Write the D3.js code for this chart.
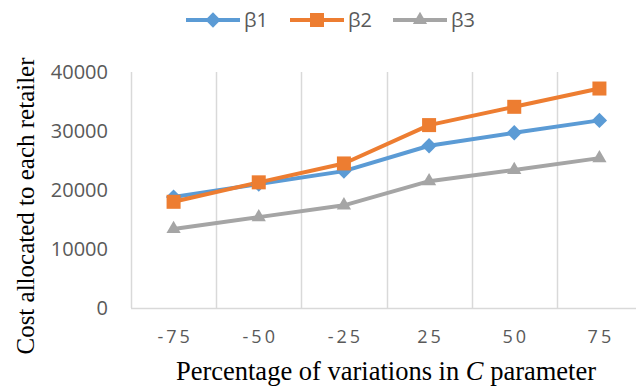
<!DOCTYPE html>
<html>
<head>
<meta charset="utf-8">
<script src="https://cdn.jsdelivr.net/npm/d3@7"></script>
<style>
  body { margin: 0; background: #fff; }
  svg { display: block; }
</style>
</head>
<body>
<div id="chart"></div>
<script>
// Data
const categories = ["-75", "-50", "-25", "25", "50", "75"];
const beta1 = [18800, 21000, 23200, 27500, 29700, 31800];
const beta2 = [18000, 21300, 24500, 31000, 34100, 37200];
const beta3 = [13400, 15400, 17400, 21500, 23400, 25400];
const yTicks = [0, 10000, 20000, 30000, 40000];
const seriesNames = ["β1", "β2", "β3"];

const series = [
    {name: seriesNames[0], values: beta1, color: "#5B9BD5", symbol: d3.symbolDiamond2, size: 150},
    {name: seriesNames[1], values: beta2, color: "#ED7D31", symbol: d3.symbolSquare2, size: 250},
    {name: seriesNames[2], values: beta3, color: "#A5A5A5", symbol: d3.symbolTriangle2, size: 145}
];

// Set up dimensions
const width = 636, height = 390;
const plot = {left: 131, right: 642, top: 72, bottom: 308};

const svg = d3.select("#chart")
    .append("svg")
    .attr("width", width)
    .attr("height", height);

// Scales
const x = d3.scaleBand()
    .domain(categories)
    .range([plot.left, plot.right]);

const y = d3.scaleLinear()
    .domain([0, 40000])
    .range([plot.bottom, plot.top]);

// Vertical gridlines between categories
svg.append("g")
    .selectAll("line")
    .data(categories.slice(1))
    .join("line")
    .attr("x1", d => Math.round(x(d)) + 0.5)
    .attr("x2", d => Math.round(x(d)) + 0.5)
    .attr("y1", plot.top)
    .attr("y2", plot.bottom)
    .attr("stroke", "#D9D9D9")
    .attr("stroke-width", 1.5);

// Axis lines
svg.append("line")
    .attr("x1", plot.left).attr("x2", plot.right)
    .attr("y1", plot.bottom + 0.5).attr("y2", plot.bottom + 0.5)
    .attr("stroke", "#D9D9D9").attr("stroke-width", 1.5);
svg.append("line")
    .attr("x1", plot.left + 0.5).attr("x2", plot.left + 0.5)
    .attr("y1", plot.top).attr("y2", plot.bottom)
    .attr("stroke", "#D9D9D9").attr("stroke-width", 1.5);

// Y tick labels
svg.append("g")
    .selectAll("text")
    .data(yTicks)
    .join("text")
    .attr("x", 108)
    .attr("y", d => y(d))
    .attr("dy", "0.35em")
    .attr("text-anchor", "end")
    .attr("font-family", "'Open Sans', sans-serif")
    .attr("font-size", 20)
    .attr("fill", "#595959")
    .text(d => d);

// X tick labels
svg.append("g")
    .selectAll("text")
    .data(categories)
    .join("text")
    .attr("x", d => x(d) + x.bandwidth() / 2 + 1.5)
    .attr("y", 343)
    .attr("text-anchor", "middle")
    .attr("font-family", "'Open Sans', sans-serif")
    .attr("font-size", 18)
    .attr("letter-spacing", 3)
    .attr("fill", "#595959")
    .text(d => d);

// Lines and markers
const line = d3.line()
    .x((d, i) => x(categories[i]) + x.bandwidth() / 2)
    .y(d => y(d));

series.forEach(s => {
    svg.append("path")
        .datum(s.values)
        .attr("fill", "none")
        .attr("stroke", s.color)
        .attr("stroke-width", 4)
        .attr("stroke-linejoin", "round")
        .attr("d", line);
});

series.forEach(s => {
    svg.append("g")
        .selectAll("path")
        .data(s.values)
        .join("path")
        .attr("transform", (d, i) => `translate(${x(categories[i]) + x.bandwidth() / 2},${y(d)})`)
        .attr("d", d3.symbol().type(s.symbol).size(s.size))
        .attr("fill", s.color);
});

// Legend
const legendX = [186, 290, 393];
const legend = svg.append("g")
    .selectAll("g")
    .data(series)
    .join("g")
    .attr("transform", (d, i) => `translate(${legendX[i]},20)`);

legend.append("line")
    .attr("x1", 0).attr("x2", 54)
    .attr("y1", 0).attr("y2", 0)
    .attr("stroke", d => d.color)
    .attr("stroke-width", 4);

legend.append("path")
    .attr("transform", "translate(27,0)")
    .attr("d", d => d3.symbol().type(d.symbol).size(d.size)())
    .attr("fill", d => d.color);

legend.append("text")
    .attr("x", 58)
    .attr("y", 0)
    .attr("dy", "0.36em")
    .attr("font-family", "'Open Sans', sans-serif")
    .attr("font-size", 20)
    .attr("fill", "#595959")
    .text(d => d.name);

// Axis titles
svg.append("text")
    .attr("x", 386)
    .attr("y", 380)
    .attr("text-anchor", "middle")
    .attr("font-family", "'Liberation Serif', serif")
    .attr("font-size", 26.5)
    .attr("fill", "#000")
    .call(t => {
        t.append("tspan").text("Percentage of variations in ");
        t.append("tspan").attr("font-style", "italic").text("C");
        t.append("tspan").text(" parameter");
    });

svg.append("text")
    .attr("transform", "rotate(-90)")
    .attr("x", -206)
    .attr("y", 34)
    .attr("text-anchor", "middle")
    .attr("font-family", "'Liberation Serif', serif")
    .attr("font-size", 25)
    .attr("fill", "#000")
    .text("Cost allocated to each retailer");
</script>
</body>
</html>
